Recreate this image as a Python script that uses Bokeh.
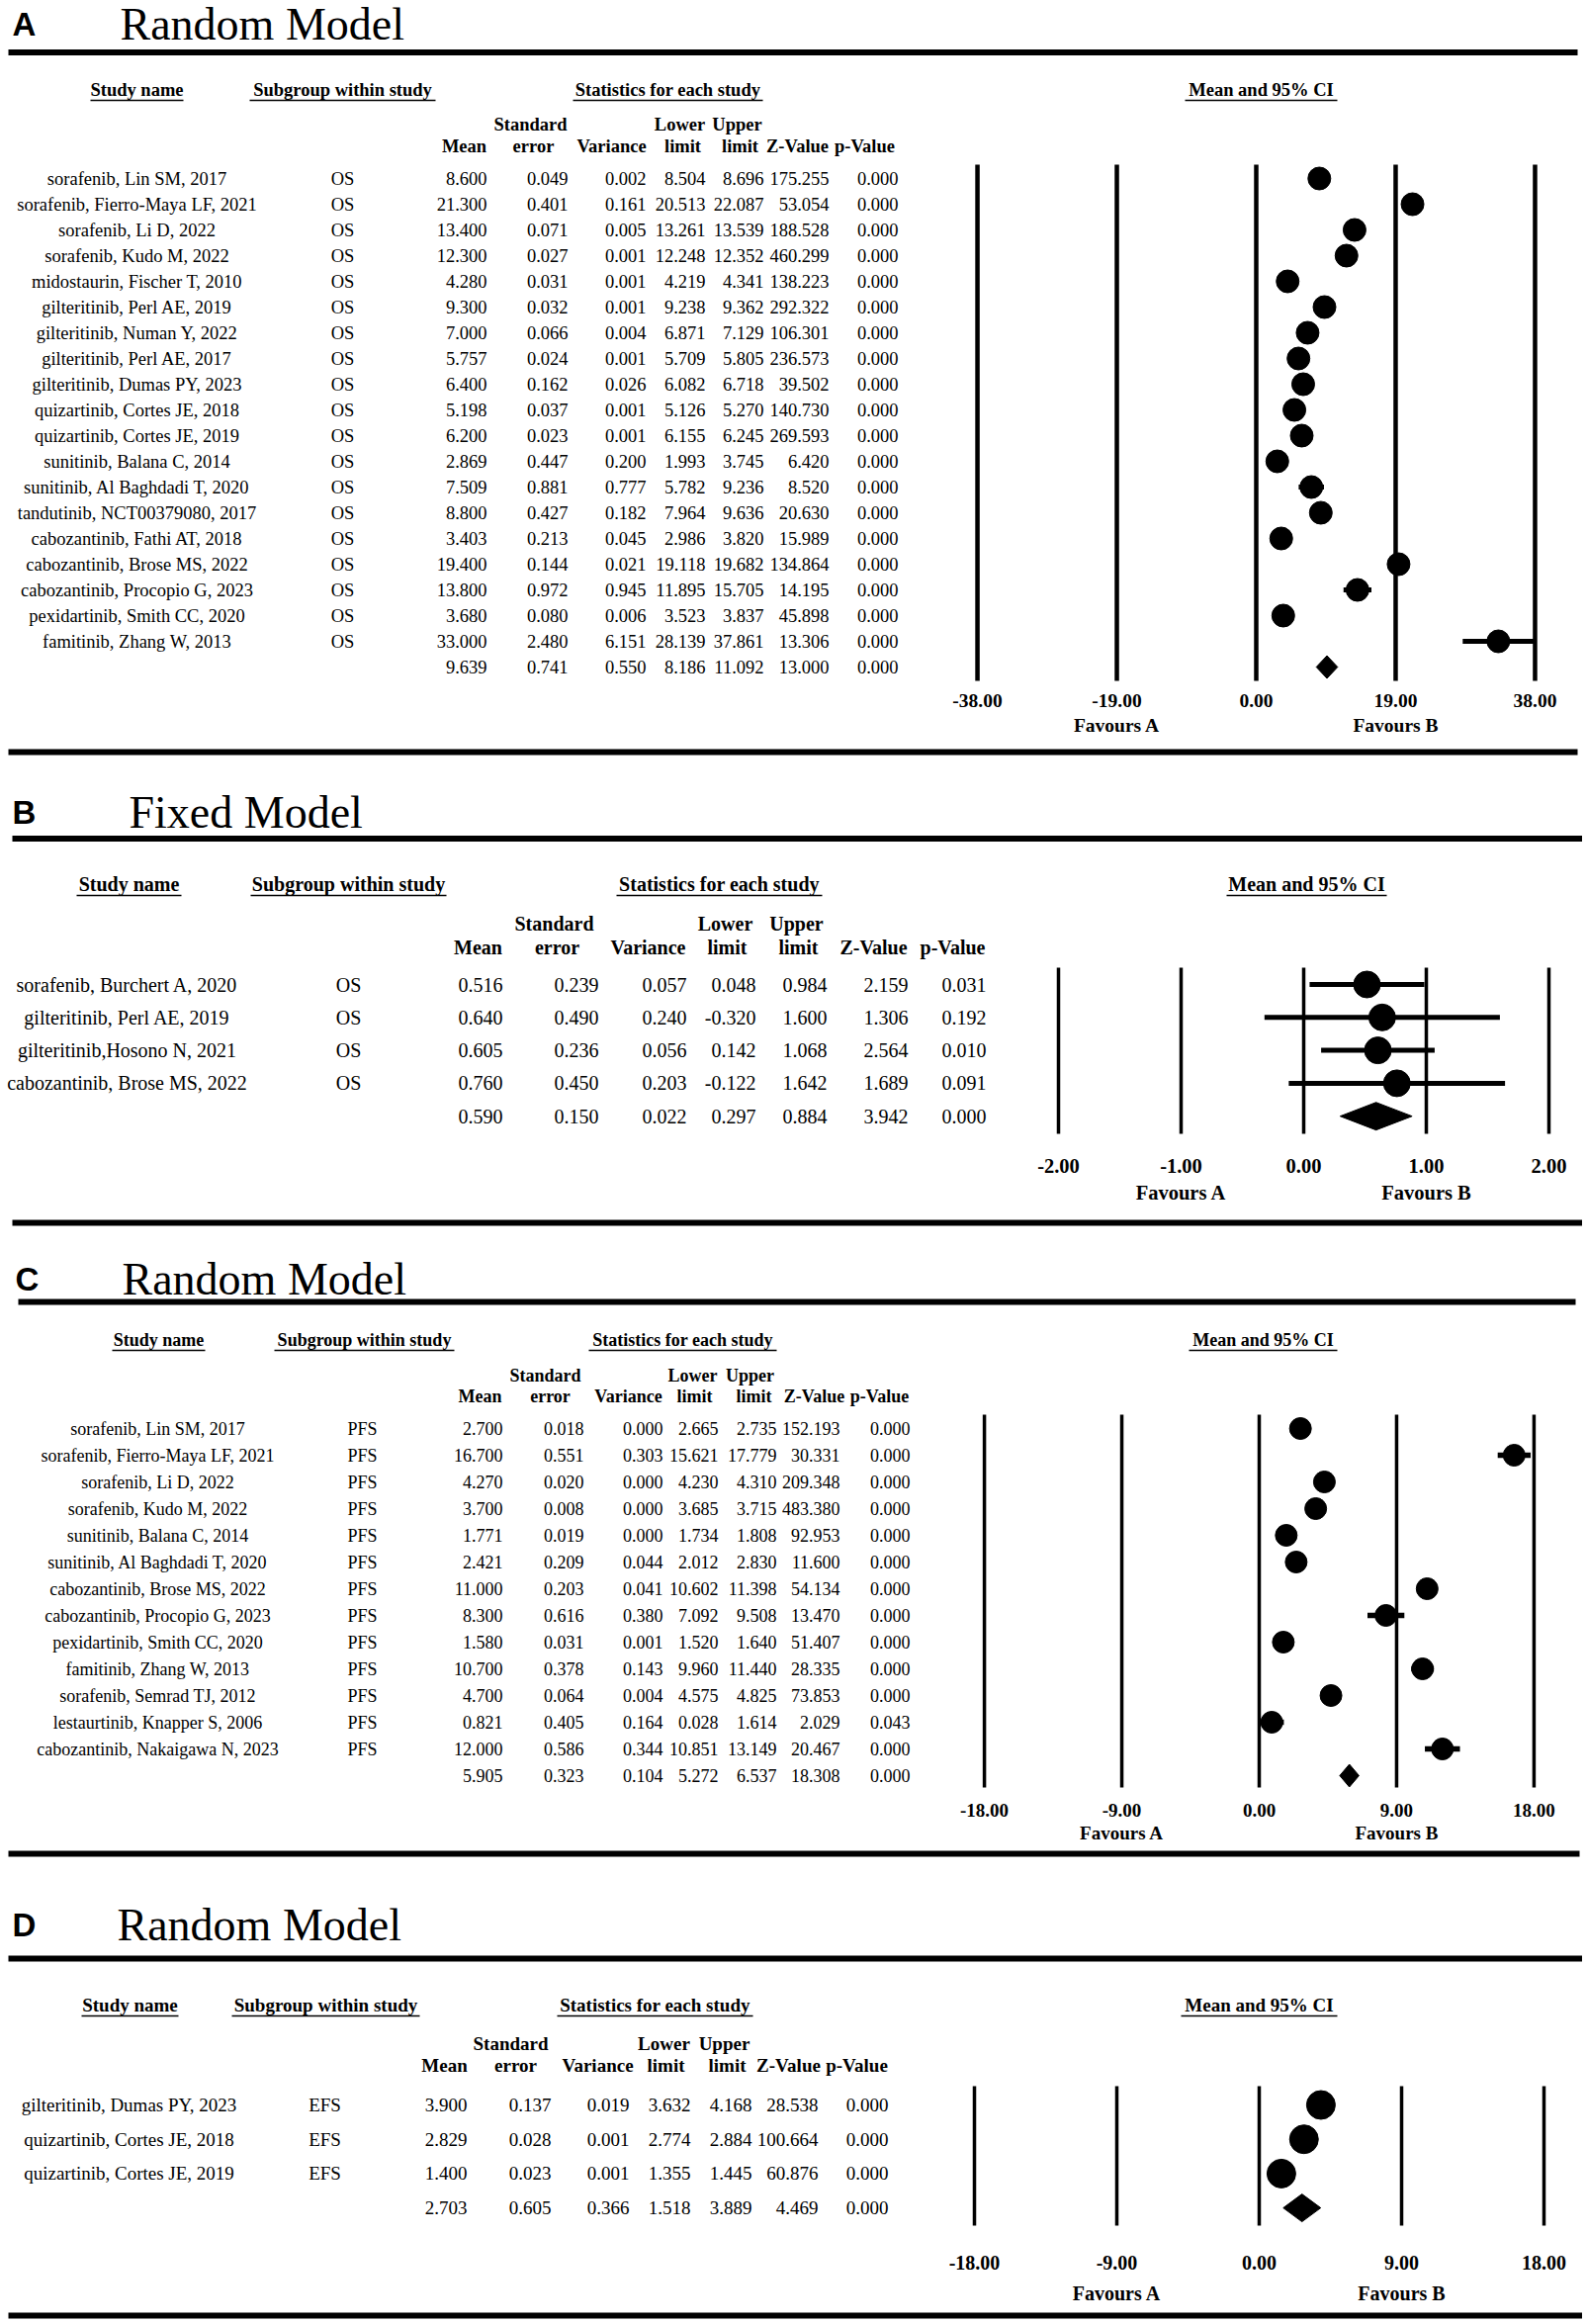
from bokeh.plotting import figure
from bokeh.models import Range1d
from bokeh.core.properties import value
from bokeh.embed import file_html
from bokeh.resources import INLINE

# ---------------- DATA ----------------
HEAD_GROUPS = ["Study name", "Subgroup within study", "Statistics for each study", "Mean and 95% CI"]
HEAD_TOP = ["Standard", "Lower", "Upper"]
HEAD_BOTTOM = ["Mean", "error", "Variance", "limit", "limit", "Z-Value", "p-Value"]
FAVOURS = ["Favours A", "Favours B"]

# Panel A: Random Model, OS
A_title = "Random Model"
A_subgroup = "OS"
A_studies = ["sorafenib, Lin SM, 2017", "sorafenib, Fierro-Maya LF, 2021", "sorafenib, Li D, 2022",
             "sorafenib, Kudo M, 2022", "midostaurin, Fischer T, 2010", "gilteritinib, Perl AE, 2019",
             "gilteritinib, Numan Y, 2022", "gilteritinib, Perl AE, 2017", "gilteritinib, Dumas PY, 2023",
             "quizartinib, Cortes JE, 2018", "quizartinib, Cortes JE, 2019", "sunitinib, Balana C, 2014",
             "sunitinib, Al Baghdadi T, 2020", "tandutinib, NCT00379080, 2017", "cabozantinib, Fathi AT, 2018",
             "cabozantinib, Brose MS, 2022", "cabozantinib, Procopio G, 2023", "pexidartinib, Smith CC, 2020",
             "famitinib, Zhang W, 2013"]
A_mean = [8.600, 21.300, 13.400, 12.300, 4.280, 9.300, 7.000, 5.757, 6.400, 5.198, 6.200, 2.869, 7.509, 8.800, 3.403, 19.400, 13.800, 3.680, 33.000]
A_se = [0.049, 0.401, 0.071, 0.027, 0.031, 0.032, 0.066, 0.024, 0.162, 0.037, 0.023, 0.447, 0.881, 0.427, 0.213, 0.144, 0.972, 0.080, 2.480]
A_var = [0.002, 0.161, 0.005, 0.001, 0.001, 0.001, 0.004, 0.001, 0.026, 0.001, 0.001, 0.200, 0.777, 0.182, 0.045, 0.021, 0.945, 0.006, 6.151]
A_lower = [8.504, 20.513, 13.261, 12.248, 4.219, 9.238, 6.871, 5.709, 6.082, 5.126, 6.155, 1.993, 5.782, 7.964, 2.986, 19.118, 11.895, 3.523, 28.139]
A_upper = [8.696, 22.087, 13.539, 12.352, 4.341, 9.362, 7.129, 5.805, 6.718, 5.270, 6.245, 3.745, 9.236, 9.636, 3.820, 19.682, 15.705, 3.837, 37.861]
A_z = [175.255, 53.054, 188.528, 460.299, 138.223, 292.322, 106.301, 236.573, 39.502, 140.730, 269.593, 6.420, 8.520, 20.630, 15.989, 134.864, 14.195, 45.898, 13.306]
A_p = [0.000] * 19
A_summary = [9.639, 0.741, 0.550, 8.186, 11.092, 13.000, 0.000]
A_ticks = [-38.0, -19.0, 0.0, 19.0, 38.0]

# Panel B: Fixed Model, OS
B_title = "Fixed Model"
B_subgroup = "OS"
B_studies = ["sorafenib, Burchert A, 2020", "gilteritinib, Perl AE, 2019", "gilteritinib,Hosono N, 2021",
             "cabozantinib, Brose MS, 2022"]
B_mean = [0.516, 0.640, 0.605, 0.760]
B_se = [0.239, 0.490, 0.236, 0.450]
B_var = [0.057, 0.240, 0.056, 0.203]
B_lower = [0.048, -0.320, 0.142, -0.122]
B_upper = [0.984, 1.600, 1.068, 1.642]
B_z = [2.159, 1.306, 2.564, 1.689]
B_p = [0.031, 0.192, 0.010, 0.091]
B_summary = [0.590, 0.150, 0.022, 0.297, 0.884, 3.942, 0.000]
B_ticks = [-2.0, -1.0, 0.0, 1.0, 2.0]

# Panel C: Random Model, PFS
C_title = "Random Model"
C_subgroup = "PFS"
C_studies = ["sorafenib, Lin SM, 2017", "sorafenib, Fierro-Maya LF, 2021", "sorafenib, Li D, 2022",
             "sorafenib, Kudo M, 2022", "sunitinib, Balana C, 2014", "sunitinib, Al Baghdadi T, 2020",
             "cabozantinib, Brose MS, 2022", "cabozantinib, Procopio G, 2023", "pexidartinib, Smith CC, 2020",
             "famitinib, Zhang W, 2013", "sorafenib, Semrad TJ, 2012", "lestaurtinib, Knapper S, 2006",
             "cabozantinib, Nakaigawa N, 2023"]
C_mean = [2.700, 16.700, 4.270, 3.700, 1.771, 2.421, 11.000, 8.300, 1.580, 10.700, 4.700, 0.821, 12.000]
C_se = [0.018, 0.551, 0.020, 0.008, 0.019, 0.209, 0.203, 0.616, 0.031, 0.378, 0.064, 0.405, 0.586]
C_var = [0.000, 0.303, 0.000, 0.000, 0.000, 0.044, 0.041, 0.380, 0.001, 0.143, 0.004, 0.164, 0.344]
C_lower = [2.665, 15.621, 4.230, 3.685, 1.734, 2.012, 10.602, 7.092, 1.520, 9.960, 4.575, 0.028, 10.851]
C_upper = [2.735, 17.779, 4.310, 3.715, 1.808, 2.830, 11.398, 9.508, 1.640, 11.440, 4.825, 1.614, 13.149]
C_z = [152.193, 30.331, 209.348, 483.380, 92.953, 11.600, 54.134, 13.470, 51.407, 28.335, 73.853, 2.029, 20.467]
C_p = [0.000] * 11 + [0.043, 0.000]
C_summary = [5.905, 0.323, 0.104, 5.272, 6.537, 18.308, 0.000]
C_ticks = [-18.0, -9.0, 0.0, 9.0, 18.0]

# Panel D: Random Model, EFS
D_title = "Random Model"
D_subgroup = "EFS"
D_studies = ["gilteritinib, Dumas PY, 2023", "quizartinib, Cortes JE, 2018", "quizartinib, Cortes JE, 2019"]
D_mean = [3.900, 2.829, 1.400]
D_se = [0.137, 0.028, 0.023]
D_var = [0.019, 0.001, 0.001]
D_lower = [3.632, 2.774, 1.355]
D_upper = [4.168, 2.884, 1.445]
D_z = [28.538, 100.664, 60.876]
D_p = [0.000, 0.000, 0.000]
D_summary = [2.703, 0.605, 0.366, 1.518, 3.889, 4.469, 0.000]
D_ticks = [-18.0, -9.0, 0.0, 9.0, 18.0]

# ---------------- LAYOUT (page pixel positions, styles) ----------------
W, H = 1600, 2346
XL, XR = 0, W
YT, YB = 0, H
SERIF = value("Liberation Serif")
SANS = value("Liberation Sans")

LAYOUT = {
    "A": dict(letter_x=12, title_x=121, ty=24, rules=[(52.5, 8, 1595), (760, 8, 1595)],
              gy=90, ul=101, gx=[138, 346, 675, 1275], gw=[47, 94, 96, 77],
              h1y=125, h2y=147, h1x=[536, 687, 745], h2x=[469, 539, 618, 690, 748, 806, 874],
              name_x=138, sub_x=346, col_r=[492, 574, 653, 713, 772, 838, 908], fs=18.5,
              y0=180, dy=26.0, x0=1270, ppu=7.42, vtop=166, vbot=688, vlw=4.5,
              ticky=708, favy=733, tfs=19.5, dot=23, cilw=5, dhh=11.5),
    "B": dict(letter_x=12, title_x=130, ty=821, rules=[(847.5, 12, 1600), (1236, 12, 1600)],
              gy=893, ul=905, gx=[130, 352, 727, 1321], gw=[53, 99, 104, 81],
              h1y=933, h2y=957, h1x=[560, 733, 805], h2x=[483, 563, 655, 735, 807, 883, 963],
              name_x=128, sub_x=352, col_r=[508, 605, 694, 764, 836, 918, 997], fs=20,
              y0=995, dy=33.3, x0=1318, ppu=124.0, vtop=978, vbot=1146, vlw=3.5,
              ticky=1178, favy=1205, tfs=20.5, dot=27, cilw=5, dhh=14),
    "C": dict(letter_x=15, title_x=123, ty=1293, rules=[(1316, 18, 1593), (1874, 8, 1597)],
              gy=1354, ul=1365, gx=[160, 368, 690, 1277], gw=[47, 91, 95, 75],
              h1y=1390, h2y=1411, h1x=[551, 700, 758], h2x=[485, 556, 635, 702, 762, 823, 889],
              name_x=159, sub_x=366, col_r=[508, 590, 670, 726, 785, 849, 920], fs=18,
              y0=1444, dy=27.0, x0=1273, ppu=15.44, vtop=1430, vbot=1807, vlw=3.5,
              ticky=1830, favy=1853, tfs=19, dot=22, cilw=5.5, dhh=11.5),
    "D": dict(letter_x=12, title_x=118, ty=1946, rules=[(1980, 8, 1600), (2341, 8, 1600)],
              gy=2027, ul=2038, gx=[131, 329, 662, 1273], gw=[49, 95, 99, 79],
              h1y=2066, h2y=2088, h1x=[516, 671, 732], h2x=[449, 521, 604, 673, 735, 797, 866],
              name_x=130, sub_x=328, col_r=[472, 557, 636, 698, 760, 827, 898], fs=19,
              y0=2128, dy=34.7, x0=1273, ppu=16.0, vtop=2109, vbot=2250, vlw=3.5,
              ticky=2287, favy=2318, tfs=20, dot=29, cilw=5, dhh=14),
}

PANELS = [
    ("A", A_title, A_studies, A_subgroup, [A_mean, A_se, A_var, A_lower, A_upper, A_z, A_p], A_summary, A_ticks),
    ("B", B_title, B_studies, B_subgroup, [B_mean, B_se, B_var, B_lower, B_upper, B_z, B_p], B_summary, B_ticks),
    ("C", C_title, C_studies, C_subgroup, [C_mean, C_se, C_var, C_lower, C_upper, C_z, C_p], C_summary, C_ticks),
    ("D", D_title, D_studies, D_subgroup, [D_mean, D_se, D_var, D_lower, D_upper, D_z, D_p], D_summary, D_ticks),
]

p = figure(width=W, height=H, output_backend="svg", toolbar_location=None, title=None,
           x_range=Range1d(XL, XR), y_range=Range1d(YB, YT),
           x_axis_location=None, y_axis_location=None, min_border=0,
           outline_line_color=None, background_fill_color="white", border_fill_color="white")
p.grid.visible = False

xr, yr = {}, {}
for tag, *_ in PANELS:
    L = LAYOUT[tag]
    xr["f" + tag] = Range1d((XL - L["x0"]) / L["ppu"], (XR - L["x0"]) / L["ppu"])
    yr["r" + tag] = Range1d((YB - L["y0"]) / L["dy"], (YT - L["y0"]) / L["dy"])
p.extra_x_ranges = xr
p.extra_y_ranges = yr


def txt(x, y, t, size, font=SERIF, style="normal", align="center", baseline="middle", **kw):
    p.text(x=x, y=y, text=t, text_font=font, text_font_size=f"{size}px", text_font_style=style,
           text_align=align, text_baseline=baseline, text_color="black", **kw)


for tag, title, studies, subgroup, cols, summary, ticks in PANELS:
    L = LAYOUT[tag]
    fr, rr = "f" + tag, "r" + tag
    n = len(studies)
    rows = list(range(n))
    fs = L["fs"]

    # letter + title
    txt([L["letter_x"]], [L["ty"]], [tag], 33, font=SANS, style="bold", align="left")
    txt([L["title_x"]], [L["ty"]], [title], 46, align="left")
    # thick rules
    for (ry, rx0, rx1) in L["rules"]:
        p.segment(x0=[rx0], x1=[rx1], y0=[ry], y1=[ry], line_color="black", line_width=6)

    # group headers, underlined
    txt(L["gx"], [L["gy"]] * 4, HEAD_GROUPS, fs, style="bold")
    p.segment(x0=[c - w for c, w in zip(L["gx"], L["gw"])], x1=[c + w for c, w in zip(L["gx"], L["gw"])],
              y0=[L["ul"]] * 4, y1=[L["ul"]] * 4, line_color="black", line_width=1.6)
    # column headers
    txt(L["h1x"], [L["h1y"]] * 3, HEAD_TOP, fs, style="bold")
    txt(L["h2x"], [L["h2y"]] * 7, HEAD_BOTTOM, fs, style="bold")

    # study rows
    txt([L["name_x"]] * n, rows, studies, fs, y_range_name=rr)
    txt([L["sub_x"]] * n, rows, [subgroup] * n, fs, y_range_name=rr)
    for j, col in enumerate(cols):
        vals = list(col) + [summary[j]]
        txt([L["col_r"][j]] * (n + 1), rows + [n], [f"{v:.3f}" for v in vals], fs, align="right",
            y_range_name=rr)

    # forest: vertical reference lines
    p.segment(x0=ticks, x1=ticks, y0=[L["vtop"]] * len(ticks), y1=[L["vbot"]] * len(ticks),
              line_color="black", line_width=L["vlw"], x_range_name=fr)
    txt(ticks, [L["ticky"]] * len(ticks), [f"{t:.2f}" for t in ticks], L["tfs"], style="bold", x_range_name=fr)
    txt([ticks[1], ticks[3]], [L["favy"]] * 2, FAVOURS, L["tfs"], style="bold", x_range_name=fr)

    # confidence intervals and point estimates
    mean, lower, upper = cols[0], cols[3], cols[4]
    p.segment(x0=lower, x1=upper, y0=rows, y1=rows, line_color="black", line_width=L["cilw"],
              x_range_name=fr, y_range_name=rr)
    p.scatter(x=mean, y=rows, size=L["dot"], marker="circle", fill_color="black", line_color="black",
              x_range_name=fr, y_range_name=rr)
    # summary diamond
    hh = L["dhh"] / L["dy"]
    p.patch(x=[summary[3], summary[0], summary[4], summary[0]], y=[n, n - hh, n, n + hh],
            fill_color="black", line_color="black", x_range_name=fr, y_range_name=rr)

open("out.html", "w").write(file_html(p, INLINE))
